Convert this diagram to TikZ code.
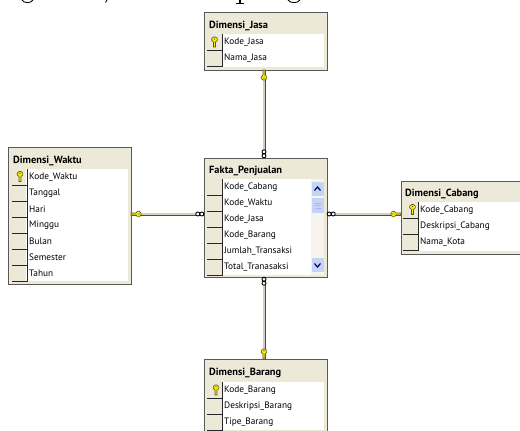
\documentclass[tikz,border=0pt]{standalone}
\usepackage{fontspec}
\setmainfont{PT Sans}
\definecolor{panelbeige}{HTML}{ECE9D8}
\definecolor{keyyellow}{HTML}{F5E614}
\definecolor{keydark}{HTML}{5E5A10}
\definecolor{scrollblue}{HTML}{C3D4F7}
\tikzset{
  tablebox/.style={draw=black!65, line width=1bp, fill=panelbeige, anchor=north west,
    inner sep=0pt, outer sep=0pt},
  tabletitle/.style={anchor=west, inner sep=0pt, font=\bfseries\fontsize{10.4bp}{11bp}\selectfont},
  rowtext/.style={anchor=west, inner sep=0pt, font=\fontsize{9.3bp}{10bp}\selectfont},
  linkback/.style={draw=black!70, line width=1.2bp},
  linkfront/.style={draw=panelbeige!75!gray, line width=2bp},
  keyicon/.pic={
    \path[fill=keyyellow, draw=keydark, line width=.6bp]
      (-1,0) -- (-1,-5) -- (-2.8,-6.5) -- (-2.8,-8.5) -- (-1,-10) -- (1,-10)
      -- (2.8,-8.5) -- (2.8,-6.5) -- (1,-5) -- (1,0) -- cycle;
    \fill[keydark] (0,-8) circle (.7);
  },
  chainlink/.pic={
    \draw[black, line width=.9bp, fill=white] (0,-2.2) circle (2);
    \draw[black, line width=.9bp, fill=white] (0,-6.2) circle (2);
  },
}
\begin{document}
\begin{tikzpicture}[x=1bp, y=-1bp]
  \useasboundingbox (0,0) rectangle (520,430);
  \clip (0,0) rectangle (520,430);

  % Cut off line of text above the picture
  \draw[line width=.9bp] (22,0) .. controls (24,3.5) and (31,3.5) .. (33,0);
  \draw[line width=.8bp] (107,0) -- (105.5,2.5);
  \draw[line width=1.1bp] (240,0) -- (240,3);
  \draw[line width=.7bp] (236,3.2) -- (244,3.2);
  \draw[line width=.9bp] (288,0) .. controls (290,3.5) and (298,3.5) .. (300,0);

  % Draw table boxes
  \node[tablebox, minimum width=123bp, minimum height=58bp] (jasa) at (204,12) {};
  \node[tablebox, minimum width=123bp, minimum height=137bp] (waktu) at (8,147) {};
  \node[tablebox, minimum width=123bp, minimum height=119bp] (fakta) at (204,158) {};
  \node[tablebox, minimum width=130bp, minimum height=73bp] (cabang) at (401,181) {};
  \node[tablebox, minimum width=123bp, minimum height=90bp] (barang) at (204,359) {};

  % Table titles
  \node[tabletitle] (jasatitle) at (209,25.5) {Dimensi\_Jasa};
  \node[tabletitle] (waktutitle) at (13,160.5) {Dimensi\_Waktu};
  \node[tabletitle] (faktatitle) at (209,171) {Fakta\_Penjualan};
  \node[tabletitle] (cabangtitle) at (405,194) {Dimensi\_Cabang};
  \node[tabletitle] (barangtitle) at (209,373) {Dimensi\_Barang};

  % White areas
  \fill[white] (222,34) rectangle (324,67);
  \fill[white] (26,169) rectangle (128,281);
  \fill[white] (222,179) rectangle (324,275);
  \fill[white] (419,202) rectangle (520,251);
  \fill[white] (222,382) rectangle (324,430);

  % Rows, the key cell first
  \foreach \rowx/\rowy/\rowlist in {
      207/34/{Kode\_Jasa,Nama\_Jasa},
      12/169/{Kode\_Waktu,Tanggal,Hari,Minggu,Bulan,Semester,Tahun},
      207/179/{Kode\_Cabang,Kode\_Waktu,Kode\_Jasa,Kode\_Barang,Jumlah\_Transaksi,Total\_Tranasaksi},
      403/202/{Kode\_Cabang,Deskripsi\_Cabang,Nama\_Kota},
      207/382/{Kode\_Barang,Deskripsi\_Barang,Tipe\_Barang}}
    \foreach \rowtxt [count=\i from 0] in \rowlist {
      \draw[black!85, line width=.7bp] (\rowx,\rowy+16*\i+16) -- ++(15.5,0) -- ++(0,-16);
      \node[rowtext] at (\rowx+17,\rowy+16*\i+8) {\rowtxt};
    };

  % Key cells
  \pic at (214.5,47) {keyicon};
  \pic at (20,181.5) {keyicon};
  \pic at (412.5,214.5) {keyicon};
  \pic at (216,395) {keyicon};

  % Scrollbar of the fact table
  \fill[panelbeige!50!white] (311,179) rectangle (324,275);
  \fill[scrollblue] (312,182) rectangle (323.5,196);
  \fill[scrollblue] (312,198) rectangle (323.5,213);
  \draw[blue!30!white, line width=.6bp] (315,203) -- (320.5,203) (315,205.5) -- (320.5,205.5) (315,208) -- (320.5,208);
  \fill[scrollblue] (312,258) rectangle (323.5,272);
  \draw[blue!45!black, line width=1.2bp] (314.5,190.5) -- (317.5,187) -- (320.5,190.5);
  \draw[blue!45!black, line width=1.2bp] (314.5,263.5) -- (317.5,267) -- (320.5,263.5);

  % Link end points
  \coordinate (topend) at ([xshift=-1.5bp]jasa.south);
  \coordinate (bottomend) at ([xshift=-1.5bp]barang.north);
  \coordinate (leftend) at ([yshift=1.5bp]waktu.east);
  \coordinate (rightend) at ([yshift=3.5bp]cabang.west);
  \coordinate (factnorth) at (topend |- fakta.north);
  \coordinate (factsouth) at (bottomend |- fakta.south);
  \coordinate (factwest) at (leftend -| fakta.west);
  \coordinate (facteast) at (rightend -| fakta.east);

  % Draw links
  \draw[linkback] ([xshift=1bp]topend) -- ([xshift=1bp]factnorth);
  \draw[linkfront] ([xshift=-.5bp]topend) -- ([xshift=-.5bp]factnorth);
  \draw[linkback] ([xshift=1bp]factsouth) -- ([xshift=1bp]bottomend);
  \draw[linkfront] ([xshift=-.5bp]factsouth) -- ([xshift=-.5bp]bottomend);
  \draw[linkback] ([yshift=-1bp]leftend) -- ([yshift=-1bp]factwest);
  \draw[linkfront] ([yshift=.5bp]leftend) -- ([yshift=.5bp]factwest);
  \draw[linkback] ([yshift=-1bp]facteast) -- ([yshift=-1bp]rightend);
  \draw[linkfront] ([yshift=.5bp]facteast) -- ([yshift=.5bp]rightend);

  % Link ends
  \pic[rotate=180] at (topend) {keyicon};
  \pic at (bottomend) {keyicon};
  \pic[rotate=-90] at (leftend) {keyicon};
  \pic[rotate=90] at (rightend) {keyicon};
  \pic at (factnorth) {chainlink};
  \pic[rotate=180] at (factsouth) {chainlink};
  \pic[rotate=90] at (factwest) {chainlink};
  \pic[rotate=-90] at (facteast) {chainlink};
\end{tikzpicture}
\end{document}
